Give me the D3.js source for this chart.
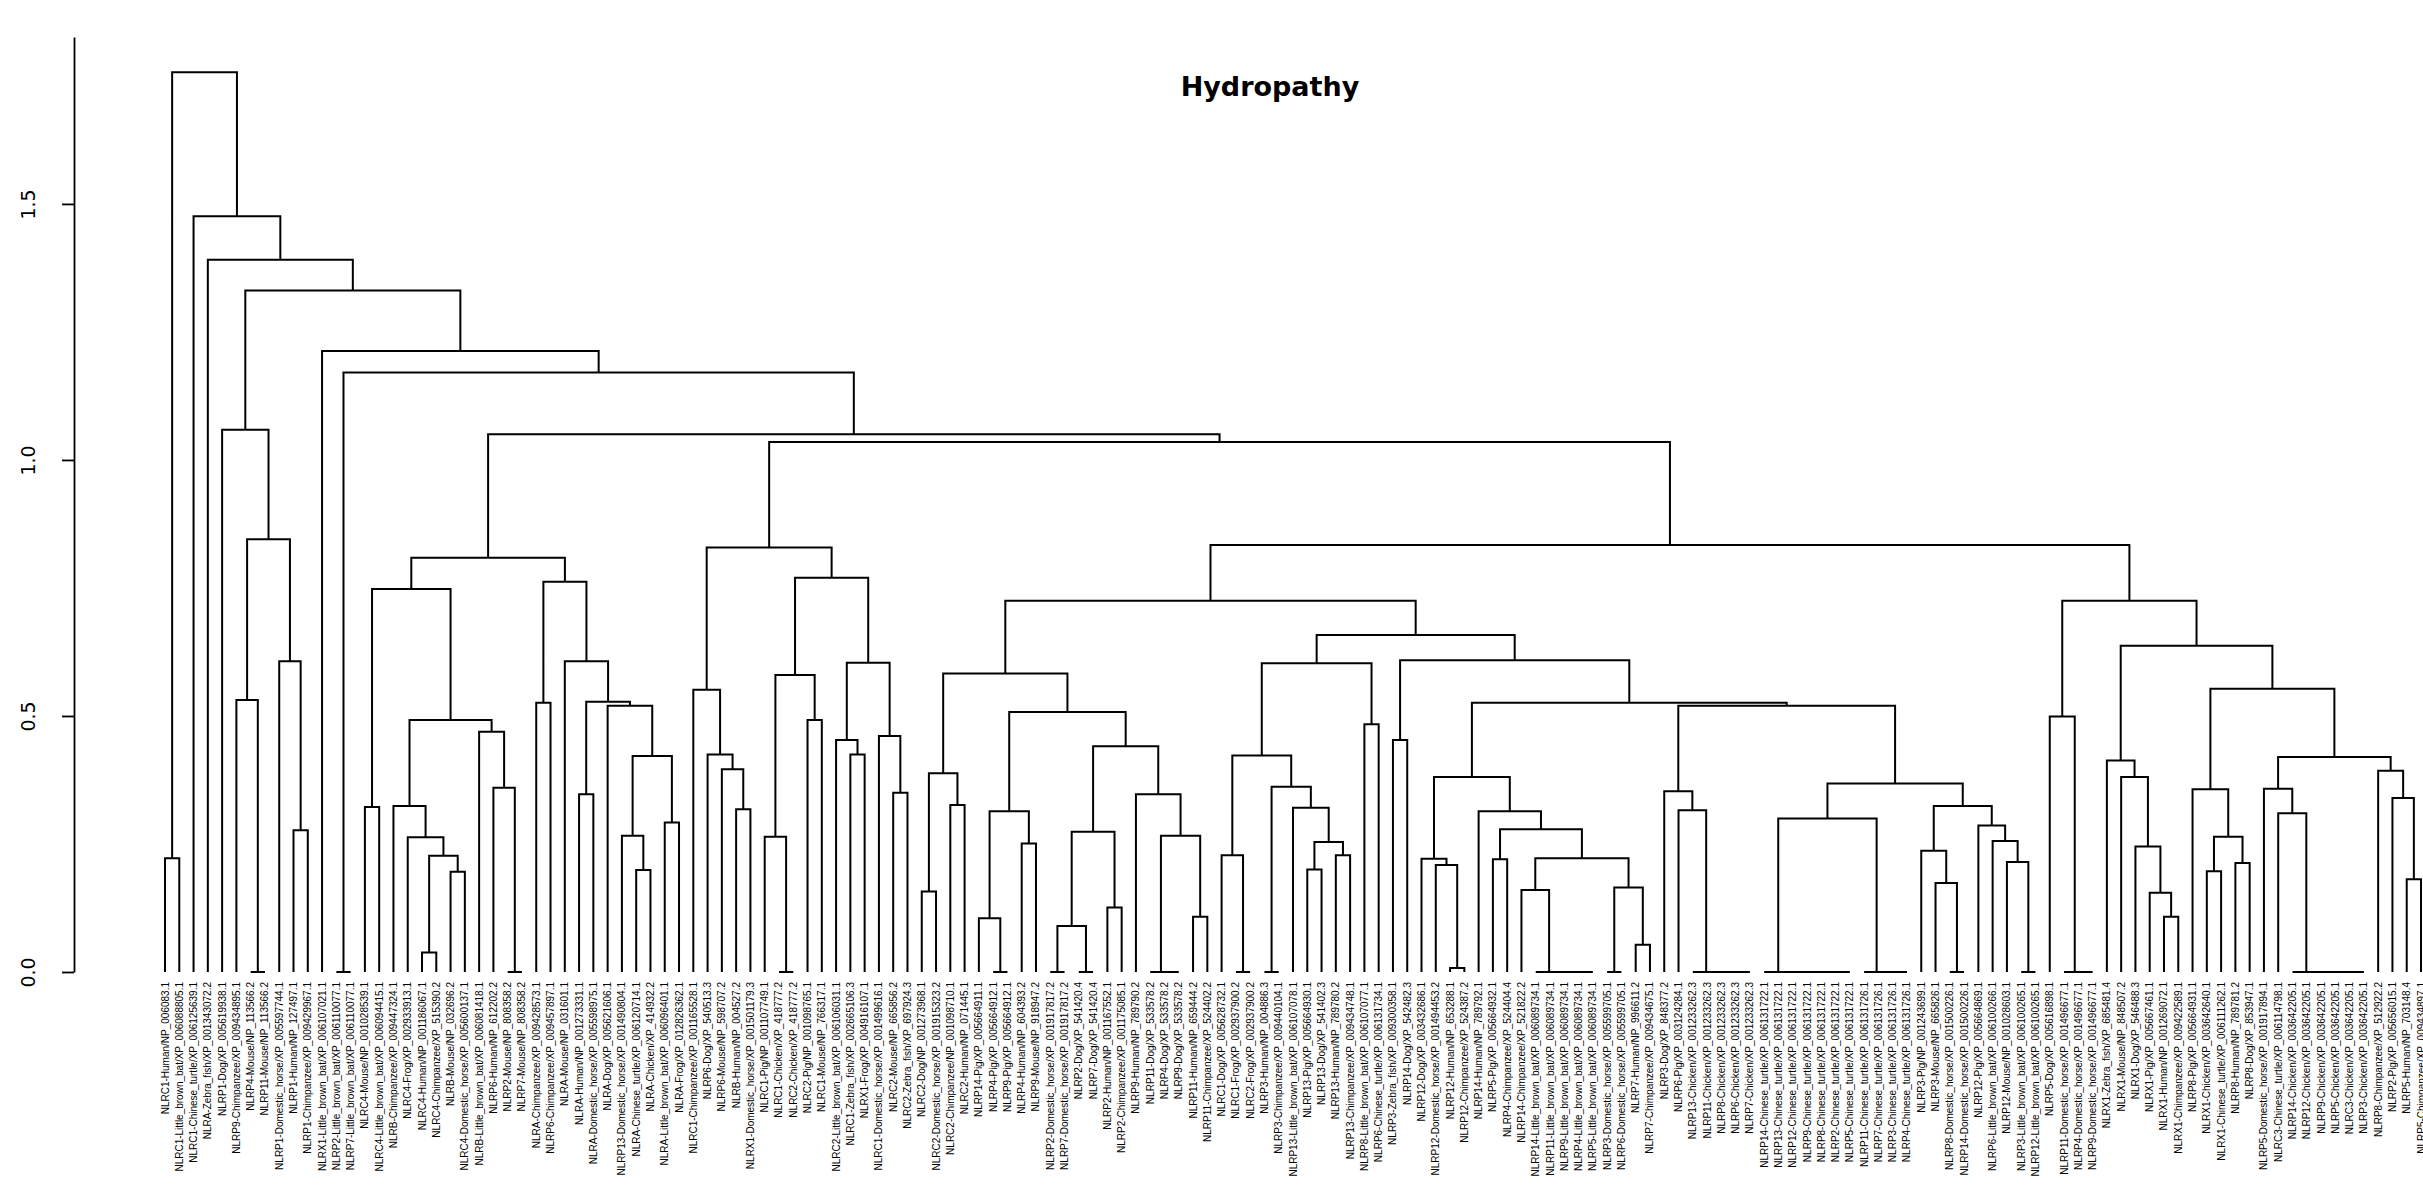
<!DOCTYPE html>
<html>
<head>
<meta charset="utf-8">
<script src="https://cdn.jsdelivr.net/npm/d3@7"></script>
<style>
  body { margin: 0; background: #fff; }
  svg { display: block; }
</style>
</head>
<body>
<div id="chart"></div>
<script>
const width = 2423;
const height = 1188;
const title = "Hydropathy";

// leaf order, left to right
const labels = [
  "NLRC1-Human/NP_006083.1", "NLRC1-Little_brown_bat/XP_006088805.1", "NLRC1-Chinese_turtle/XP_006125639.1",
  "NLRA-Zebra_fish/XP_001343072.2", "NLRP1-Dog/XP_005619938.1", "NLRP9-Chimpanzee/XP_009434895.1",
  "NLRP4-Mouse/NP_113566.2", "NLRP11-Mouse/NP_113566.2", "NLRP1-Domestic_horse/XP_005597744.1",
  "NLRP1-Human/NP_127497.1", "NLRP1-Chimpanzee/XP_009429967.1", "NLRX1-Little_brown_bat/XP_006107021.1",
  "NLRP2-Little_brown_bat/XP_006110077.1", "NLRP7-Little_brown_bat/XP_006110077.1", "NLRC4-Mouse/NP_001028539.1",
  "NLRC4-Little_brown_bat/XP_006094415.1", "NLRB-Chimpanzee/XP_009447324.1", "NLRC4-Frog/XP_002933913.1",
  "NLRC4-Human/NP_001186067.1", "NLRC4-Chimpanzee/XP_515390.2", "NLRB-Mouse/NP_032696.2",
  "NLRC4-Domestic_horse/XP_005600137.1", "NLRB-Little_brown_bat/XP_006081418.1", "NLRP6-Human/NP_612202.2",
  "NLRP2-Mouse/NP_808358.2", "NLRP7-Mouse/NP_808358.2", "NLRA-Chimpanzee/XP_009428573.1",
  "NLRP6-Chimpanzee/XP_009457897.1", "NLRA-Mouse/NP_031601.1", "NLRA-Human/NP_001273331.1",
  "NLRA-Domestic_horse/XP_005598975.1", "NLRA-Dog/XP_005621606.1", "NLRP13-Domestic_horse/XP_001490804.1",
  "NLRA-Chinese_turtle/XP_006120714.1", "NLRA-Chicken/XP_414932.2", "NLRA-Little_brown_bat/XP_006096401.1",
  "NLRA-Frog/XP_012826362.1", "NLRC1-Chimpanzee/XP_001165528.1", "NLRP6-Dog/XP_540513.3",
  "NLRP6-Mouse/NP_598707.2", "NLRB-Human/NP_004527.2", "NLRX1-Domestic_horse/XP_001501179.3",
  "NLRC1-Pig/NP_001107749.1", "NLRC1-Chicken/XP_418777.2", "NLRC2-Chicken/XP_418777.2",
  "NLRC2-Pig/NP_001098765.1", "NLRC1-Mouse/NP_766317.1", "NLRC2-Little_brown_bat/XP_006106031.1",
  "NLRC1-Zebra_fish/XP_002665106.3", "NLRX1-Frog/XP_004916107.1", "NLRC1-Domestic_horse/XP_001499616.1",
  "NLRC2-Mouse/NP_665856.2", "NLRC2-Zebra_fish/XP_697924.3", "NLRC2-Dog/NP_001273968.1",
  "NLRC2-Domestic_horse/XP_001915323.2", "NLRC2-Chimpanzee/NP_001098710.1", "NLRC2-Human/NP_071445.1",
  "NLRP14-Pig/XP_005664911.1", "NLRP4-Pig/XP_005664912.1", "NLRP9-Pig/XP_005664912.1",
  "NLRP4-Human/NP_604393.2", "NLRP9-Mouse/NP_918947.2", "NLRP2-Domestic_horse/XP_001917817.2",
  "NLRP7-Domestic_horse/XP_001917817.2", "NLRP2-Dog/XP_541420.4", "NLRP7-Dog/XP_541420.4",
  "NLRP2-Human/NP_001167552.1", "NLRP2-Chimpanzee/XP_001175085.1", "NLRP9-Human/NP_789790.2",
  "NLRP11-Dog/XP_533578.2", "NLRP4-Dog/XP_533578.2", "NLRP9-Dog/XP_533578.2",
  "NLRP11-Human/NP_659444.2", "NLRP11-Chimpanzee/XP_524402.2", "NLRC1-Dog/XP_005628732.1",
  "NLRC1-Frog/XP_002937900.2", "NLRC2-Frog/XP_002937900.2", "NLRP3-Human/NP_004886.3",
  "NLRP3-Chimpanzee/XP_009440104.1", "NLRP13-Little_brown_bat/XP_006107078.1", "NLRP13-Pig/XP_005664930.1",
  "NLRP13-Dog/XP_541402.3", "NLRP13-Human/NP_789780.2", "NLRP13-Chimpanzee/XP_009434748.1",
  "NLRP8-Little_brown_bat/XP_006107077.1", "NLRP6-Chinese_turtle/XP_006131734.1", "NLRP3-Zebra_fish/XP_009300358.1",
  "NLRP14-Dog/XP_542482.3", "NLRP12-Dog/XP_003432686.1", "NLRP12-Domestic_horse/XP_001494453.2",
  "NLRP12-Human/NP_653288.1", "NLRP12-Chimpanzee/XP_524387.2", "NLRP14-Human/NP_789792.1",
  "NLRP5-Pig/XP_005664932.1", "NLRP4-Chimpanzee/XP_524404.4", "NLRP14-Chimpanzee/XP_521822.2",
  "NLRP14-Little_brown_bat/XP_006089734.1", "NLRP11-Little_brown_bat/XP_006089734.1", "NLRP9-Little_brown_bat/XP_006089734.1",
  "NLRP4-Little_brown_bat/XP_006089734.1", "NLRP5-Little_brown_bat/XP_006089734.1", "NLRP3-Domestic_horse/XP_005599705.1",
  "NLRP6-Domestic_horse/XP_005599705.1", "NLRP7-Human/NP_996611.2", "NLRP7-Chimpanzee/XP_009434675.1",
  "NLRP3-Dog/XP_848377.2", "NLRP6-Pig/XP_003124284.1", "NLRP13-Chicken/XP_001233262.3",
  "NLRP11-Chicken/XP_001233262.3", "NLRP8-Chicken/XP_001233262.3", "NLRP6-Chicken/XP_001233262.3",
  "NLRP7-Chicken/XP_001233262.3", "NLRP14-Chinese_turtle/XP_006131722.1", "NLRP13-Chinese_turtle/XP_006131722.1",
  "NLRP12-Chinese_turtle/XP_006131722.1", "NLRP9-Chinese_turtle/XP_006131722.1", "NLRP8-Chinese_turtle/XP_006131722.1",
  "NLRP2-Chinese_turtle/XP_006131722.1", "NLRP5-Chinese_turtle/XP_006131722.1", "NLRP11-Chinese_turtle/XP_006131726.1",
  "NLRP7-Chinese_turtle/XP_006131726.1", "NLRP3-Chinese_turtle/XP_006131726.1", "NLRP4-Chinese_turtle/XP_006131726.1",
  "NLRP3-Pig/NP_001243699.1", "NLRP3-Mouse/NP_665826.1", "NLRP8-Domestic_horse/XP_001500226.1",
  "NLRP14-Domestic_horse/XP_001500226.1", "NLRP12-Pig/XP_005664869.1", "NLRP6-Little_brown_bat/XP_006100266.1",
  "NLRP12-Mouse/NP_001028603.1", "NLRP3-Little_brown_bat/XP_006100265.1", "NLRP12-Little_brown_bat/XP_006100265.1",
  "NLRP5-Dog/XP_005616898.1", "NLRP11-Domestic_horse/XP_001496677.1", "NLRP4-Domestic_horse/XP_001496677.1",
  "NLRP9-Domestic_horse/XP_001496677.1", "NLRX1-Zebra_fish/XP_685481.4", "NLRX1-Mouse/NP_848507.2",
  "NLRX1-Dog/XP_546488.3", "NLRX1-Pig/XP_005667461.1", "NLRX1-Human/NP_001269072.1",
  "NLRX1-Chimpanzee/XP_009422589.1", "NLRP8-Pig/XP_005664931.1", "NLRX1-Chicken/XP_003642640.1",
  "NLRX1-Chinese_turtle/XP_006111262.1", "NLRP8-Human/NP_789781.2", "NLRP8-Dog/XP_853947.1",
  "NLRP5-Domestic_horse/XP_001917894.1", "NLRC3-Chinese_turtle/XP_006114798.1", "NLRP14-Chicken/XP_003642205.1",
  "NLRP12-Chicken/XP_003642205.1", "NLRP9-Chicken/XP_003642205.1", "NLRP5-Chicken/XP_003642205.1",
  "NLRC3-Chicken/XP_003642205.1", "NLRP3-Chicken/XP_003642205.1", "NLRP8-Chimpanzee/XP_512922.2",
  "NLRP2-Pig/XP_005656015.1", "NLRP5-Human/NP_703148.4", "NLRP5-Chimpanzee/XP_009434897.1"
];

// hclust style merge table: negative = leaf number (1-based), positive = earlier merge step
const merge = [
  [-1,-2], [-7,-8], [-6,2], [-10,-11], [-9,4], [3,5], [-5,6], [-13,-14],
  [-15,-16], [-19,-20], [-21,-22], [10,11], [-18,12], [-17,13], [-25,-26], [-24,15], [-23,16], [14,17], [9,18],
  [-27,-28], [-30,-31], [-34,-35], [-33,22], [-36,-37], [23,24], [-32,25], [21,26], [-29,27], [20,28], [19,29],
  [-41,-42], [-40,31], [-39,32], [-38,33], [-44,-45], [-43,35], [-46,-47], [36,37], [-49,-50], [-48,39],
  [-52,-53], [-51,41], [40,42], [38,43], [34,44],
  [-54,-55], [-56,-57], [46,47], [-59,-60], [-58,49], [-61,-62], [50,51], [-63,-64], [-65,-66], [53,54],
  [-67,-68], [55,56], [-71,-72], [-70,58], [-73,-74], [59,60], [-69,61], [57,62], [52,63], [48,64],
  [-76,-77], [-75,66], [-78,-79], [-81,-82], [-83,-84], [69,70], [-80,71], [68,72], [67,73], [-85,-86], [74,75],
  [-87,-88], [-91,-92], [-90,78], [-89,79], [-94,-95], [-100,-101], [-99,82], [-98,83], [-97,84], [-96,85],
  [-102,-103], [-104,-105], [87,88], [86,89], [81,90], [-93,91], [80,92],
  [-111,-112], [-110,94], [-109,95], [-108,96], [-107,97], [-106,98],
  [-118,-119], [-117,100], [-116,101], [-115,102], [-114,103], [-113,104],
  [-122,-123], [-121,106], [-120,107], [105,108], [-126,-127], [-125,110], [-124,111],
  [-131,-132], [-130,113], [-129,114], [-128,115], [112,116], [109,117], [99,118], [93,119], [77,120], [76,121], [65,122],
  [-135,-136], [-134,124], [-133,125], [-141,-142], [-140,127], [-139,128], [-138,129], [-137,130],
  [-144,-145], [-146,-147], [132,133], [-143,134],
  [-154,-155], [-153,136], [-152,137], [-151,138], [-150,139], [-149,140], [-148,141],
  [-158,-159], [-157,143], [-156,144], [142,145], [135,146], [131,147], [126,148], [123,149],
  [45,150], [30,151], [8,152], [-12,153], [7,154], [-4,155], [-3,156], [1,157]
];

const mergeHeight = [
  0.222, 0, 0.531, 0.277, 0.607, 0.845, 1.059, 0,
  0.322, 0.038, 0.196, 0.227, 0.263, 0.324, 0, 0.36, 0.469, 0.492, 0.748,
  0.526, 0.347, 0.199, 0.266, 0.292, 0.422, 0.52, 0.528, 0.607, 0.762, 0.809,
  0.318, 0.396, 0.425, 0.551, 0, 0.264, 0.492, 0.58, 0.425, 0.453,
  0.35, 0.461, 0.604, 0.770, 0.829,
  0.157, 0.326, 0.388, 0, 0.105, 0.251, 0.314, 0, 0, 0.09,
  0.126, 0.274, 0, 0, 0.108, 0.266, 0.347, 0.441, 0.508, 0.583,
  0, 0.228, 0, 0.2, 0.228, 0.254, 0.321, 0.362, 0.423, 0.484, 0.603,
  0.453, 0.008, 0.209, 0.221, 0.22, 0, 0, 0, 0, 0.16,
  0, 0.053, 0.165, 0.222, 0.279, 0.314, 0.381,
  0, 0, 0, 0, 0.316, 0.353,
  0, 0, 0, 0, 0, 0,
  0, 0, 0, 0.30, 0, 0.174, 0.237,
  0, 0.215, 0.256, 0.286, 0.324, 0.368, 0.52, 0.526, 0.609, 0.658, 0.725,
  0, 0, 0.499, 0.108, 0.155, 0.245, 0.381, 0.413,
  0.197, 0.213, 0.264, 0.357,
  0, 0, 0, 0, 0, 0.31, 0.358,
  0.181, 0.34, 0.393, 0.42, 0.553, 0.637, 0.725, 0.834,
  1.035, 1.050, 1.171, 1.213, 1.331, 1.391, 1.476, 1.757
];

const yTicks = [0, 0.5, 1.0, 1.5];

const svg = d3.select("#chart")
  .append("svg")
  .attr("width", width)
  .attr("height", height);

const x = d3.scalePoint()
  .domain(d3.range(1, labels.length + 1))
  .range([165, 2421]);

const y = d3.scaleLinear()
  .domain([0, 1.826])
  .range([972, 37]);

// build node positions: merged node sits midway between its two children
const nodes = [];
const ref = r => r < 0 ? { x: x(-r), h: 0 } : nodes[r - 1];
merge.forEach(([a, b], i) => {
  const l = ref(a), r = ref(b);
  nodes.push({ l: l, r: r, x: (l.x + r.x) / 2, h: mergeHeight[i] });
});

svg.append("g")
  .attr("fill", "none")
  .attr("stroke", "#000")
  .attr("stroke-width", 2)
  .selectAll("path")
  .data(nodes)
  .join("path")
  .attr("d", d => `M${d.l.x},${y(d.l.h)}V${y(d.h)}H${d.r.x}V${y(d.r.h)}`);

// leaf labels, rotated
svg.append("g")
  .attr("font-family", "'Liberation Sans', Arial, sans-serif")
  .attr("font-size", 10)
  .attr("fill", "#000")
  .selectAll("text")
  .data(labels)
  .join("text")
  .attr("text-anchor", "end")
  .attr("dy", "0.35em")
  .attr("transform", (d, i) => `translate(${x(i + 1)},982) rotate(-90)`)
  .text(d => d);

// y axis
const yAxis = svg.append("g")
  .attr("transform", "translate(74,0)")
  .call(d3.axisLeft(y).tickValues(yTicks).tickSize(12).tickSizeOuter(0).tickFormat(d3.format(".1f")));

yAxis.selectAll("path, line").attr("stroke", "#000").attr("stroke-width", 1.8);
yAxis.selectAll("text")
  .attr("x", 0)
  .attr("y", -46)
  .attr("dy", "0.35em")
  .attr("text-anchor", "middle")
  .attr("transform", "rotate(-90)")
  .attr("fill", "#000")
  .attr("font-family", "'DejaVu Sans', sans-serif")
  .attr("font-size", 19);

svg.append("text")
  .attr("x", 1270)
  .attr("y", 96)
  .attr("text-anchor", "middle")
  .attr("font-family", "'DejaVu Sans', sans-serif")
  .attr("font-weight", "bold")
  .attr("font-size", 27)
  .text(title);
</script>
</body>
</html>
